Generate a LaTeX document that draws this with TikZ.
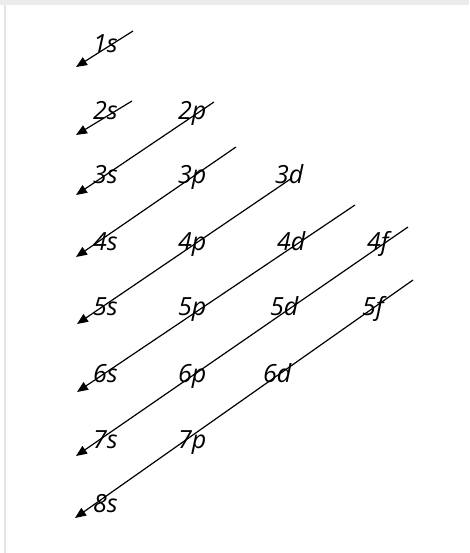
\documentclass[tikz,border=0pt]{standalone}
\usepackage{fontspec}
\newfontfamily\orbfont{Open Sans}
\usetikzlibrary{arrows.meta}

\begin{document}
\begin{tikzpicture}[
            x=1pt, y=-1pt,
            orbital/.style={anchor=base west, inner sep=0pt, font=\orbfont\itshape\fontsize{25}{28}\selectfont},
            fill arrow/.style={-{Triangle[length=11pt, width=9pt]}, line width=1.2pt}
        ]

            % --- page ---
            \useasboundingbox (0,0) rectangle (469,553);
            \fill[white] (0,0) rectangle (469,553);
            \fill[gray!15] (0,0) rectangle (469,5);
            \draw[gray!20, line width=1.5pt] (5,5) -- (5,553);

            % --- Orbital labels ---
            \node[orbital] (s1) at (93,53) {1s};
            \node[orbital] (s2) at (93,120) {2s};
            \node[orbital] (p2) at (178,120) {2p};
            \node[orbital] (s3) at (93,184) {3s};
            \node[orbital] (p3) at (178,184) {3p};
            \node[orbital] (d3) at (275,184) {3d};
            \node[orbital] (s4) at (93,250) {4s};
            \node[orbital] (p4) at (178,250) {4p};
            \node[orbital] (d4) at (277,250) {4d};
            \node[orbital] (f4) at (367,250) {4f};
            \node[orbital] (s5) at (93,315) {5s};
            \node[orbital] (p5) at (178,315) {5p};
            \node[orbital] (d5) at (270,315) {5d};
            \node[orbital] (f5) at (362,315) {5f};
            \node[orbital] (s6) at (93,382) {6s};
            \node[orbital] (p6) at (178,382) {6p};
            \node[orbital] (d6) at (263,382) {6d};
            \node[orbital] (s7) at (93,448) {7s};
            \node[orbital] (p7) at (178,448) {7p};
            \node[orbital] (s8) at (93,512) {8s};

            % --- Diagonal ends ---
            \coordinate (top1) at (133,31);
            \coordinate (top2) at (132,101);
            \coordinate (top3) at (214,102);
            \coordinate (top4) at (236,147);
            \coordinate (top5) at (292,178);
            \coordinate (top6) at (355,205);
            \coordinate (top7) at (408,227);
            \coordinate (top8) at (413,280);

            \coordinate (tip1) at (76,67);
            \coordinate (tip2) at (76,135);
            \coordinate (tip3) at (76,195);
            \coordinate (tip4) at (76,257);
            \coordinate (tip5) at (77,324);
            \coordinate (tip6) at (77,392);
            \coordinate (tip7) at (76,456);
            \coordinate (tip8) at (75,518);

            % --- Filling order arrows ---
            \draw[fill arrow] (top1) -- (tip1);
            \draw[fill arrow] (top2) -- (tip2);
            \draw[fill arrow] (top3) -- (tip3);
            \draw[fill arrow] (top4) -- (tip4);
            \draw[fill arrow] (top5) -- (tip5);
            \draw[fill arrow] (top6) -- (tip6);
            \draw[fill arrow] (top7) -- (tip7);
            \draw[fill arrow] (top8) -- (tip8);

        \end{tikzpicture}
\end{document}
